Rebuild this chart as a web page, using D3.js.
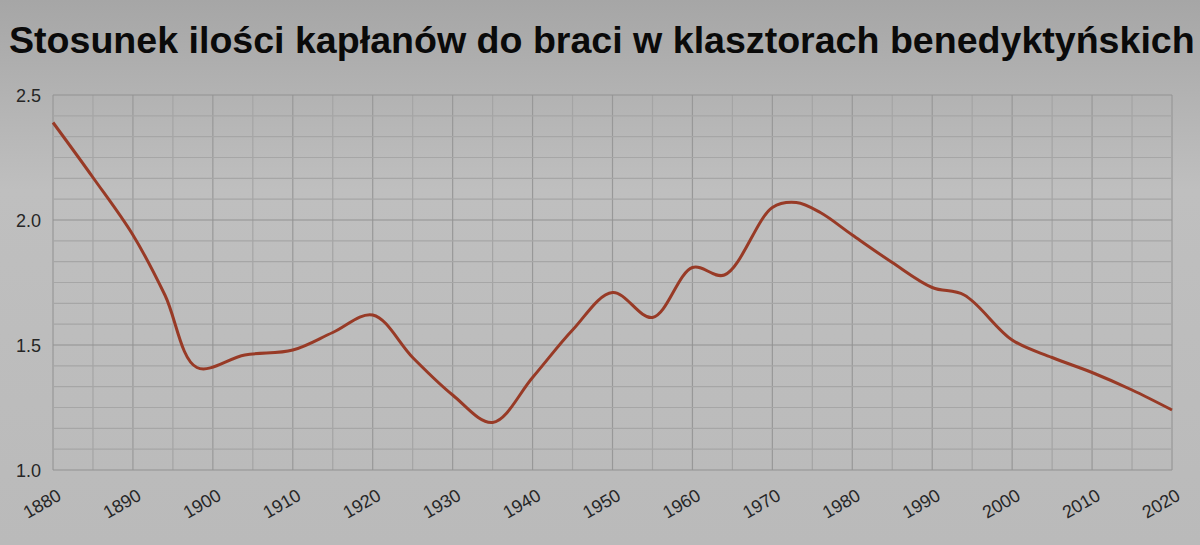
<!DOCTYPE html>
<html>
<head>
<meta charset="utf-8">
<script src="https://cdn.jsdelivr.net/npm/d3@7"></script>
<style>
  html, body { margin: 0; padding: 0; }
  body { width: 1200px; height: 545px; overflow: hidden; }
  text { font-family: "Liberation Sans", Arial, sans-serif; }
</style>
</head>
<body>
<div id="chart"></div>
<script>
// ratio of priests to brothers in Benedictine monasteries
var years  = [1880, 1885, 1890, 1894, 1898, 1904, 1910, 1915, 1920, 1925, 1930, 1935, 1940, 1945,
              1950, 1955, 1960, 1964, 1970, 1973, 1976, 1980, 1985, 1990, 1994, 2000, 2005, 2010, 2015, 2020];
var ratios = [2.39, 2.17, 1.94, 1.70, 1.41, 1.46, 1.48, 1.55, 1.62, 1.45, 1.30, 1.19, 1.37, 1.56,
              1.71, 1.61, 1.81, 1.78, 2.05, 2.07, 2.03, 1.94, 1.83, 1.73, 1.70, 1.52, 1.45, 1.39, 1.32, 1.24];

var xTicks = [1880, 1890, 1900, 1910, 1920, 1930, 1940, 1950, 1960, 1970, 1980, 1990, 2000, 2010, 2020];
var yTicks = [1.0, 1.5, 2.0, 2.5];
var title = "Stosunek ilości kapłanów do braci w klasztorach benedyktyńskich";

var width = 1200;
var height = 545;
var margin = {top: 95, right: 28, bottom: 75, left: 53};

var svg = d3.select("#chart")
  .append("svg")
    .attr("width", width)
    .attr("height", height);

// photo-like grey background
var grad = svg.append("defs").append("linearGradient")
  .attr("id", "bg")
  .attr("x1", 0).attr("y1", 0).attr("x2", 0).attr("y2", 1);
grad.append("stop").attr("offset", "0%").attr("stop-color", "#a6a6a6");
grad.append("stop").attr("offset", "35%").attr("stop-color", "#bfbfbf");
grad.append("stop").attr("offset", "100%").attr("stop-color", "#bababa");

svg.append("rect")
  .attr("width", width)
  .attr("height", height)
  .attr("fill", "url(#bg)");

var x = d3.scaleLinear()
  .domain([1880, 2020])
  .range([margin.left, width - margin.right]);

var y = d3.scaleLinear()
  .domain([1.0, 2.5])
  .range([height - margin.bottom, margin.top]);

// grid
var g = svg.append("g");

g.selectAll(".vgrid")
  .data(d3.range(1880, 2021, 5))
  .enter()
  .append("line")
    .attr("x1", d => x(d)).attr("x2", d => x(d))
    .attr("y1", y(1.0)).attr("y2", y(2.5))
    .attr("stroke", d => d % 10 === 0 ? "#989898" : "#a4a4a4")
    .attr("stroke-width", 1.2);

g.selectAll(".hgrid")
  .data(d3.range(0, 19).map(i => 1.0 + i * 0.5 / 6))
  .enter()
  .append("line")
    .attr("x1", x(1880)).attr("x2", x(2020))
    .attr("y1", d => y(d)).attr("y2", d => y(d))
    .attr("stroke", (d, i) => i % 6 === 0 ? "#929292" : "#a6a6a6")
    .attr("stroke-width", 1.2);

// axes
var yAxis = svg.append("g")
  .attr("transform", "translate(" + (margin.left - 9) + ",0)")
  .call(d3.axisLeft(y).tickValues(yTicks).tickFormat(d3.format(".1f")).tickSize(0));
yAxis.select(".domain").remove();
yAxis.selectAll("text")
  .attr("font-size", 18)
  .attr("fill", "#262626")
  .attr("dy", "0.35em");

var xAxis = svg.append("g")
  .attr("transform", "translate(0," + (height - margin.bottom) + ")")
  .call(d3.axisBottom(x).tickValues(xTicks).tickFormat(d3.format("d")).tickSize(0));
xAxis.select(".domain").remove();
xAxis.selectAll("text")
  .attr("font-size", 18)
  .attr("fill", "#262626")
  .attr("text-anchor", "end")
  .attr("dy", 0)
  .attr("y", 0)
  .attr("transform", "translate(9,29) rotate(-30)");

// line
var line = d3.line()
  .x((d, i) => x(years[i]))
  .y(d => y(d))
  .curve(d3.curveCatmullRom.alpha(0.5));

svg.append("path")
  .datum(ratios)
  .attr("fill", "none")
  .attr("stroke", "#983a26")
  .attr("stroke-width", 3)
  .attr("d", line);

// title
var t = svg.append("text")
  .attr("x", 9)
  .attr("y", 53)
  .attr("font-size", 36)
  .attr("font-weight", "bold")
  .attr("fill", "#0a0a0a")
  .text(title);
var w = t.node().getComputedTextLength();
t.attr("font-size", 36 * 1186 / w);
</script>
</body>
</html>
